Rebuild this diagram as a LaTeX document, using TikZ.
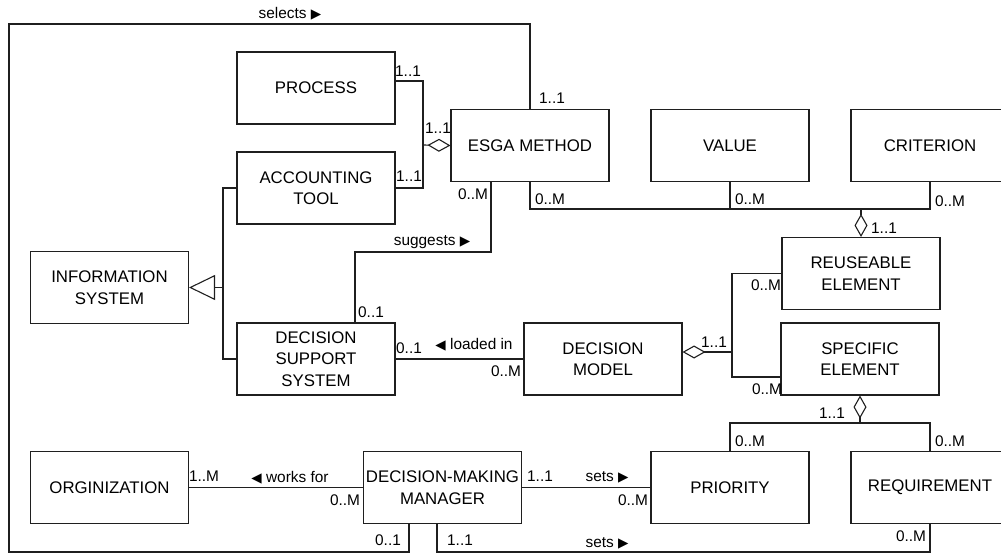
\documentclass[tikz,border=0pt]{standalone}
\usepackage{fontspec}
\setmainfont{Liberation Sans}
\newfontfamily\symfont{DejaVu Sans}
\usetikzlibrary{arrows.meta}
\definecolor{LineClr}{rgb}{0.12,0.12,0.12}
\newcommand{\rtri}{{\symfont\fontsize{13.5}{13.5}\selectfont ▶}}
\newcommand{\ltri}{{\symfont\fontsize{13.5}{13.5}\selectfont ◀}}

\begin{document}
\begin{tikzpicture}[x=1pt,y=-1pt,line width=1.1pt,draw=LineClr,
  entity/.style={draw=LineClr,rectangle,inner sep=0pt,minimum width=158pt,
    minimum height=72pt,align=center,font=\fontsize{16.8}{21.5}\selectfont},
  mult/.style={inner sep=0pt,font=\fontsize{15.4}{16}\selectfont},
  aggr/.style={-{Diamond[open,length=23pt,width=13pt]}},
  inherit/.style={-{Triangle[open,length=26pt,width=25pt]}}]
\useasboundingbox (0,0) rectangle (1001,553);

% classes
\node[entity] (process) at (316,88) {PROCESS};
\node[entity] (acct) at (316,188) {ACCOUNTING\\TOOL};
\node[entity] (esga) at (530,145.5) {ESGA METHOD};
\node[entity] (value) at (730,145.5) {VALUE};
\node[entity] (criterion) at (930,145.5) {CRITERION};
\node[entity] (reuse) at (861,273.5) {REUSEABLE\\ELEMENT};
\node[entity] (infosys) at (109.5,287.5) {INFORMATION\\SYSTEM};
\node[entity] (dss) at (316,359) {DECISION\\SUPPORT\\SYSTEM};
\node[entity] (dmodel) at (603,359) {DECISION\\MODEL};
\node[entity] (specific) at (860,359) {SPECIFIC\\ELEMENT};
\node[entity] (org) at (109.5,487.5) {ORGINIZATION};
\node[entity] (dmm) at (442.5,487.5) {DECISION-MAKING\\MANAGER};
\node[entity] (priority) at (730,487.5) {PRIORITY};
\node[entity] (requirement) at (930,487.5) {REQUIREMENT};

\coordinate (jEsga) at (423,145);
\coordinate (jReuse) at (861,209);
\coordinate (jModel) at (732,352);
\coordinate (jSpec) at (860,423);
\coordinate (jInfo) at (223,287.5);

% associations
\draw (esga.north) |- (9,24) |- (409,552) -- ([xshift=-33.5pt]dmm.south);
\draw ([yshift=7pt]process.east) -| (jEsga) |- (acct.east);
\draw[aggr] (jEsga) -- (esga.west);
\draw ([xshift=-39pt]esga.south) |- (355,252) -- ([xshift=39pt]dss.north);
\draw (esga.south) |- (930,209) -- (criterion.south);
\draw (value.south) -- (value.south |- jReuse);
\draw[aggr] (jReuse) -- (reuse.north);
\draw (acct.west) -| (223,359) -- (dss.west);
\draw[inherit] (jInfo) -- (infosys.east);
\draw (dss.east) -- (dmodel.west);
\draw[aggr] (jModel) -- ([yshift=7pt]dmodel.east);
\draw (reuse.west) -| (jModel) |- ([yshift=-18pt]specific.west);
\draw[aggr] (jSpec) -- (specific.south);
\draw (priority.north) |- (930,423) -- (requirement.north);
\draw (org.east) -- (dmm.west);
\draw (dmm.east) -- (priority.west);
\draw ([xshift=-5.5pt]dmm.south) |- (930,552) -- (requirement.south);

% multiplicities and role names
\node[mult] (lSel) at (290,14) {selects \rtri};
\node[mult] (mEsgaTop) at (552,98) {1..1};
\node[mult] (mProc) at (408,71) {1..1};
\node[mult] (mEsgaAgg) at (438,128) {1..1};
\node[mult] (mAcct) at (409,176) {1..1};
\node[mult] (mEsgaSug) at (473,194) {0..M};
\node[mult] (lSug) at (432,242) {suggests \rtri};
\node[mult] (mEsgaEl) at (550,199) {0..M};
\node[mult] (mValue) at (750,199) {0..M};
\node[mult] (mCrit) at (950,201) {0..M};
\node[mult] (mReuseTop) at (884,228) {1..1};
\node[mult] (mReuse) at (766,285) {0..M};
\node[mult] (mDssTop) at (371,312) {0..1};
\node[mult] (mDss) at (409,348) {0..1};
\node[mult] (lLoad) at (474,345) {\ltri{} loaded in};
\node[mult] (mModelL) at (506,371) {0..M};
\node[mult] (mModelR) at (714,342) {1..1};
\node[mult] (mSpec) at (767,389) {0..M};
\node[mult] (mSpecBot) at (832,413) {1..1};
\node[mult] (mPrioTop) at (750,441) {0..M};
\node[mult] (mReqTop) at (950,441) {0..M};
\node[mult] (mOrg) at (204,476) {1..M};
\node[mult] (lWork) at (290,478) {\ltri{} works for};
\node[mult] (mDmmL) at (345,500) {0..M};
\node[mult] (mDmmR) at (540,476) {1..1};
\node[mult] (lSets) at (607,477) {sets \rtri};
\node[mult] (mPrio) at (633,500) {0..M};
\node[mult] (mDmmB1) at (388,540) {0..1};
\node[mult] (mDmmB2) at (460,540) {1..1};
\node[mult] (lSets2) at (607,543) {sets \rtri};
\node[mult] (mReqBot) at (911,536) {0..M};

\end{tikzpicture}
\end{document}
